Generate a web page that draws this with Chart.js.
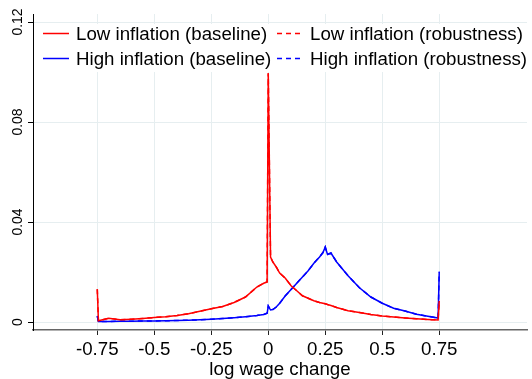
<!DOCTYPE html>
<html>
<head>
<meta charset="utf-8">
<script src="https://cdn.jsdelivr.net/npm/chart.js@4"></script>
<style>
  body { margin: 0; background: #fff; }
  #wrap { width: 532px; height: 379px; }
</style>
</head>
<body>
<div id="wrap"><canvas id="chart"></canvas></div>
<script>
// log wage change grid
const wageChange = [-0.75, -0.745, -0.70, -0.65, -0.60, -0.55, -0.50, -0.45, -0.40, -0.35, -0.30, -0.25,
  -0.20, -0.15, -0.10, -0.05, -0.02, -0.005, 0, 0.01, 0.02, 0.035, 0.05, 0.075, 0.10, 0.125, 0.15,
  0.175, 0.20, 0.225, 0.24, 0.25, 0.26, 0.275, 0.30, 0.35, 0.40, 0.45, 0.50, 0.55, 0.60, 0.65,
  0.70, 0.745, 0.75];

const lowInflation = [0.0131, 0.0005, 0.0015, 0.0009, 0.0011, 0.0014, 0.0018, 0.0021, 0.0026, 0.0033, 0.0043, 0.0053,
  0.0062, 0.0078, 0.0100, 0.0140, 0.0155, 0.0160, 0.0995, 0.0260, 0.0240, 0.0220, 0.0196, 0.0175, 0.0145, 0.0125, 0.0105,
  0.0095, 0.0085, 0.0078, 0.0075, 0.0073, 0.0070, 0.0066, 0.0058, 0.0045, 0.0038, 0.0030, 0.0024, 0.0020, 0.0016, 0.0013,
  0.0010, 0.0008, 0.0084];

const highInflation = [0.0024, 0.0002, 0.0002, 0.0003, 0.0003, 0.0004, 0.0004, 0.0005, 0.0006, 0.0007, 0.0009, 0.0011,
  0.0014, 0.0017, 0.0021, 0.0026, 0.0030, 0.0035, 0.0064, 0.0048, 0.0050, 0.0060, 0.0075, 0.0105, 0.0130, 0.0155, 0.0180,
  0.0205, 0.0235, 0.0260, 0.0278, 0.0300, 0.0270, 0.0276, 0.0240, 0.0185, 0.0137, 0.0100, 0.0075, 0.0055, 0.0044, 0.0031,
  0.0023, 0.0016, 0.0201];

const xTicks = [-0.75, -0.5, -0.25, 0, 0.25, 0.5, 0.75];
const yTicks = [0, 0.04, 0.08, 0.12];
const yTickLabels = ['0', '0.04', '0.08', '0.12'];

const legendItems = [
  { text: 'Low inflation (baseline)', color: '#ff0000', dash: [], col: 0, row: 0 },
  { text: 'High inflation (baseline)', color: '#0000ff', dash: [], col: 0, row: 1 },
  { text: 'Low inflation (robustness)', color: '#ff0000', dash: [5, 4], col: 1, row: 0 },
  { text: 'High inflation (robustness)', color: '#0000ff', dash: [5, 4], col: 1, row: 1 },
];

const FONT = '"Liberation Sans", Arial, Helvetica, sans-serif';
const toPoints = ys => ys.map((y, i) => ({ x: wageChange[i], y }));

function series(label, ys, color, dash) {
  return {
    label,
    data: toPoints(ys),
    borderColor: color,
    backgroundColor: color,
    borderWidth: 1.5,
    borderDash: dash,
    pointRadius: 0,
    tension: 0,
    fill: false,
  };
}

// rotated y tick labels and the in-plot legend box
const extras = {
  id: 'extras',
  afterDraw(chart) {
    const ctx = chart.ctx;
    const y = chart.scales.y;
    ctx.save();
    ctx.fillStyle = '#000';
    ctx.font = '14px ' + FONT;
    ctx.textAlign = 'center';
    ctx.textBaseline = 'alphabetic';
    yTicks.forEach((v, i) => {
      ctx.save();
      ctx.translate(22, y.getPixelForValue(v));
      ctx.rotate(-Math.PI / 2);
      ctx.fillText(yTickLabels[i], 0, 0);
      ctx.restore();
    });

    ctx.fillStyle = '#fff';
    ctx.fillRect(36, 24, 494, 48);
    ctx.font = '18.7px ' + FONT;
    ctx.textAlign = 'left';
    ctx.textBaseline = 'middle';
    const colX = [43, 277];
    const rowY = [33.5, 58.5];
    legendItems.forEach(it => {
      const x0 = colX[it.col];
      const yy = rowY[it.row];
      ctx.strokeStyle = it.color;
      ctx.lineWidth = 1.5;
      ctx.setLineDash(it.dash);
      ctx.beginPath();
      ctx.moveTo(x0, yy);
      ctx.lineTo(x0 + 26, yy);
      ctx.stroke();
      ctx.setLineDash([]);
      ctx.fillStyle = '#000';
      ctx.fillText(it.text, x0 + 33, yy + 1);
    });
    ctx.restore();
  },
};

new Chart(document.getElementById('chart'), {
  type: 'line',
  data: {
    datasets: [
      series('Low inflation (baseline)', lowInflation, '#ff0000', []),
      series('High inflation (baseline)', highInflation, '#0000ff', []),
      series('Low inflation (robustness)', lowInflation, '#ff0000', [5, 4]),
      series('High inflation (robustness)', highInflation, '#0000ff', [5, 4]),
    ],
  },
  options: {
    responsive: true,
    maintainAspectRatio: false,
    animation: false,
    layout: { padding: { top: 14, right: 5, left: 0, bottom: 0 } },
    plugins: { legend: { display: false }, tooltip: { enabled: false } },
    scales: {
      x: {
        type: 'linear',
        min: -1.032,
        max: 1.135,
        afterBuildTicks: scale => { scale.ticks = xTicks.map(v => ({ value: v })); },
        afterFit: scale => { scale.height = 49; },
        grid: { color: '#e6eef0', lineWidth: 1, tickColor: '#222', tickLength: 5 },
        border: { color: '#666', width: 1.5 },
        ticks: {
          autoSkip: false,
          maxRotation: 0,
          padding: 3.5,
          color: '#000',
          font: { family: FONT, size: 18.7 },
          callback: v => String(v),
        },
        title: {
          display: true,
          text: 'log wage change',
          color: '#000',
          font: { family: FONT, size: 18.7, lineHeight: 1 },
          padding: { top: 0, bottom: 0 },
        },
      },
      y: {
        min: -0.0032,
        max: 0.1232,
        afterBuildTicks: scale => { scale.ticks = yTicks.map(v => ({ value: v })); },
        afterFit: scale => { scale.width = 33; },
        grid: { color: '#e6eef0', lineWidth: 1, tickColor: '#000', tickLength: 5 },
        border: { color: '#000', width: 1 },
        ticks: { display: false },
      },
    },
  },
  plugins: [extras],
});
</script>
</body>
</html>
